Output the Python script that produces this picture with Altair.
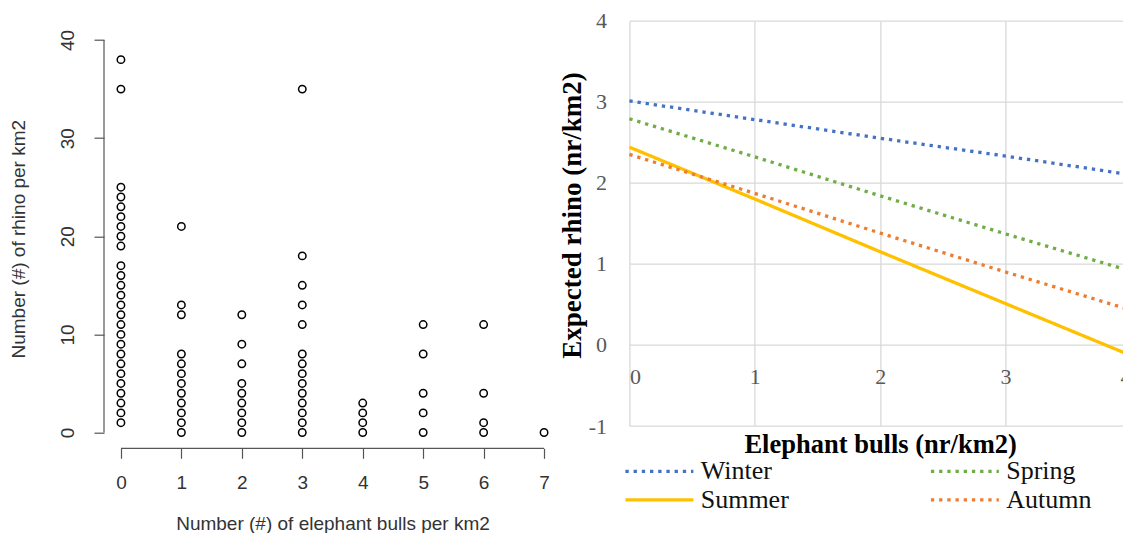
import altair as alt
import pandas as pd

SANS = "Liberation Sans"
SERIF = "Liberation Serif"

# ---------------- Left panel: observed rhino counts vs elephant bulls ----------------
rhino_at_bulls_0 = [1, 2, 3, 4, 5, 6, 7, 8, 9, 10, 11, 12, 13, 14, 15, 16, 17,
                    19, 20, 21, 22, 23, 24, 25, 35, 38]
rhino_at_bulls_1 = [0, 1, 2, 3, 4, 5, 6, 7, 8, 12, 13, 21]
rhino_at_bulls_2 = [0, 1, 2, 3, 4, 5, 7, 9, 12]
rhino_at_bulls_3 = [0, 1, 2, 3, 4, 5, 6, 7, 8, 11, 13, 15, 18, 35]
rhino_at_bulls_4 = [0, 1, 2, 3]
rhino_at_bulls_5 = [0, 2, 4, 8, 11]
rhino_at_bulls_6 = [0, 1, 4, 11]
rhino_at_bulls_7 = [0]

left_xticks = [0, 1, 2, 3, 4, 5, 6, 7]
left_yticks = [0, 10, 20, 30, 40]
left_xtitle = "Number (#) of elephant bulls per km2"
left_ytitle = "Number (#) of rhino per km2"

# ---------------- Right panel: expected rhino by season ----------------
bulls_axis = [0, 1, 2, 3, 4]
seasons = ["Winter", "Spring", "Summer", "Autumn"]
winter = [3.01, 2.78, 2.55, 2.33, 2.10]
spring = [2.79, 2.32, 1.84, 1.37, 0.91]
summer = [2.44, 1.80, 1.15, 0.51, -0.13]
autumn = [2.35, 1.87, 1.38, 0.90, 0.43]
right_yticks = [-1, 0, 1, 2, 3, 4]
season_colors = ["#4472C4", "#70AD47", "#FFC000", "#ED7D31"]
right_xtitle = "Elephant bulls (nr/km2)"
right_ytitle = "Expected rhino (nr/km2)"

# ---------------- tables ----------------
cols = [rhino_at_bulls_0, rhino_at_bulls_1, rhino_at_bulls_2, rhino_at_bulls_3,
        rhino_at_bulls_4, rhino_at_bulls_5, rhino_at_bulls_6, rhino_at_bulls_7]
scatter_df = pd.DataFrame(
    [{"bulls": b, "rhino": r} for b, col in zip(left_xticks, cols) for r in col]
)

series = [winter, spring, summer, autumn]
line_df = pd.DataFrame(
    [{"season": s, "bulls": x, "rhino": v}
     for s, vals in zip(seasons, series) for x, v in zip(bulls_axis, vals)]
)

# ---------------- sizes ----------------
LW, LH = 457, 427.6
RW, RH = 501.5, 405.3
GAP = 68.4
AXIS_GRAY = "#555555"
PLAIN_LABEL = "'' + datum.value"

# ---------------- left chart ----------------
xl = alt.X(
    "bulls:Q",
    scale=alt.Scale(domain=[-0.28, 7.28], nice=False, zero=False),
    axis=alt.Axis(
        values=left_xticks, title=left_xtitle, domain=False, grid=False,
        labelExpr=PLAIN_LABEL,
        tickSize=10, tickColor=AXIS_GRAY, tickWidth=1.2,
        labelPadding=23.7, labelBaseline="middle", labelFont=SANS,
        labelFontSize=19, labelColor="#333333",
        titleFont=SANS, titleFontSize=19, titleFontWeight="normal",
        titleColor="#333333", titleY=74.8, titleBaseline="middle",
    ),
)
yl = alt.Y(
    "rhino:Q",
    scale=alt.Scale(domain=[-1.61, 41.97], nice=False, zero=False),
    axis=alt.Axis(
        values=left_yticks, title=left_ytitle, domain=False, grid=False,
        labelExpr=PLAIN_LABEL,
        tickSize=10, tickColor=AXIS_GRAY, tickWidth=1.2,
        labelAngle=270, labelAlign="center", labelBaseline="middle",
        labelPadding=27, labelFont=SANS, labelFontSize=19, labelColor="#333333",
        titleFont=SANS, titleFontSize=19, titleFontWeight="normal",
        titleColor="#333333", titleAngle=270, titleX=-86, titleY=218,
        titleAlign="center", titleBaseline="middle",
    ),
)

points = alt.Chart(scatter_df).mark_point(
    shape="circle", filled=False, color="black", strokeWidth=1.5, size=55, opacity=1
).encode(x=xl, y=yl)

y_axis_line = alt.Chart().mark_rule(color=AXIS_GRAY, strokeWidth=1.2).encode(
    x=alt.value(0),
    y=alt.datum(min(left_yticks)),
    y2=alt.datum(max(left_yticks)),
)
x_axis_line = alt.Chart().mark_rule(color=AXIS_GRAY, strokeWidth=1.2).encode(
    y=alt.value(LH),
    x=alt.datum(min(left_xticks)),
    x2=alt.datum(max(left_xticks)),
)

left = alt.layer(points, y_axis_line, x_axis_line).properties(width=LW, height=LH)

# ---------------- right chart ----------------
# legend is placed in the coordinates of the whole concatenation
legend = alt.Legend(
    title=None, orient="none", legendX=LW + GAP + 17, legendY=437.7,
    columns=2, direction="horizontal",
    symbolType="M-10,0L10,0", symbolSize=46.2, labelFont=SERIF, labelFontSize=26,
    labelColor="#111111", labelOffset=28.3, columnPadding=134.5, rowPadding=2.5,
    padding=0, labelLimit=400,
)

xr = alt.X(
    "bulls:Q",
    scale=alt.Scale(domain=[0, 4], nice=False, zero=False),
    axis=alt.Axis(
        values=bulls_axis, title=right_xtitle, grid=True, gridColor="#D9D9D9",
        gridWidth=1.3, domain=False, ticks=False, offset=-RH / 5,
        labelExpr=PLAIN_LABEL,
        labelPadding=31.7, labelBaseline="middle", labelFont=SERIF,
        labelFontSize=22, labelColor="#595959",
        titleFont=SERIF, titleFontSize=26.5, titleFontWeight="bold",
        titleColor="black", titleY=99.4, titleBaseline="middle",
    ),
)
yr = alt.Y(
    "rhino:Q",
    scale=alt.Scale(domain=[-1, 4], nice=False, zero=False),
    axis=alt.Axis(
        values=right_yticks, title=right_ytitle, grid=True, gridColor="#D9D9D9",
        gridWidth=1.3, domain=False, ticks=False,
        labelExpr=PLAIN_LABEL,
        labelPadding=22.8, labelBaseline="middle", labelAlign="right",
        labelFont=SERIF, labelFontSize=22, labelColor="#595959",
        titleFont=SERIF, titleFontSize=27, titleFontWeight="bold",
        titleColor="black", titleAngle=270, titleX=-57, titleY=194.3,
        titleAlign="center", titleBaseline="middle",
    ),
)

lines = alt.Chart(line_df).mark_line(strokeCap="butt").encode(
    x=xr,
    y=yr,
    color=alt.Color("season:N", scale=alt.Scale(domain=seasons, range=season_colors),
                    legend=legend),
    strokeDash=alt.StrokeDash(
        "season:N",
        scale=alt.Scale(domain=seasons,
                        range=[[3.3, 4.9], [3.3, 4.9], [1, 0], [3.3, 4.9]]),
        legend=legend,
    ),
    strokeWidth=alt.StrokeWidth(
        "season:N", scale=alt.Scale(domain=seasons, range=[3.3, 3.3, 4.2, 3.3]),
        legend=legend,
    ),
).properties(width=RW, height=RH)

# Fixed page geometry: left plot origin at (104, 20.7) in the window;
# drawing 1115 x 525 so the page (with its 8px margins) fits the window.
PAD_LEFT, PAD_TOP = 96, 12.7
TOTAL_W, TOTAL_H = 1115, 525
chart = alt.hconcat(left, lines, spacing=GAP, bounds="flush").properties(
    autosize=alt.AutoSizeParams(type="none"),
    padding={"left": PAD_LEFT, "top": PAD_TOP,
             "right": TOTAL_W - PAD_LEFT, "bottom": TOTAL_H - PAD_TOP},
    background="white",
).configure_view(stroke=None)

chart.save("out.html", embed_options={"renderer": "svg", "actions": False})
